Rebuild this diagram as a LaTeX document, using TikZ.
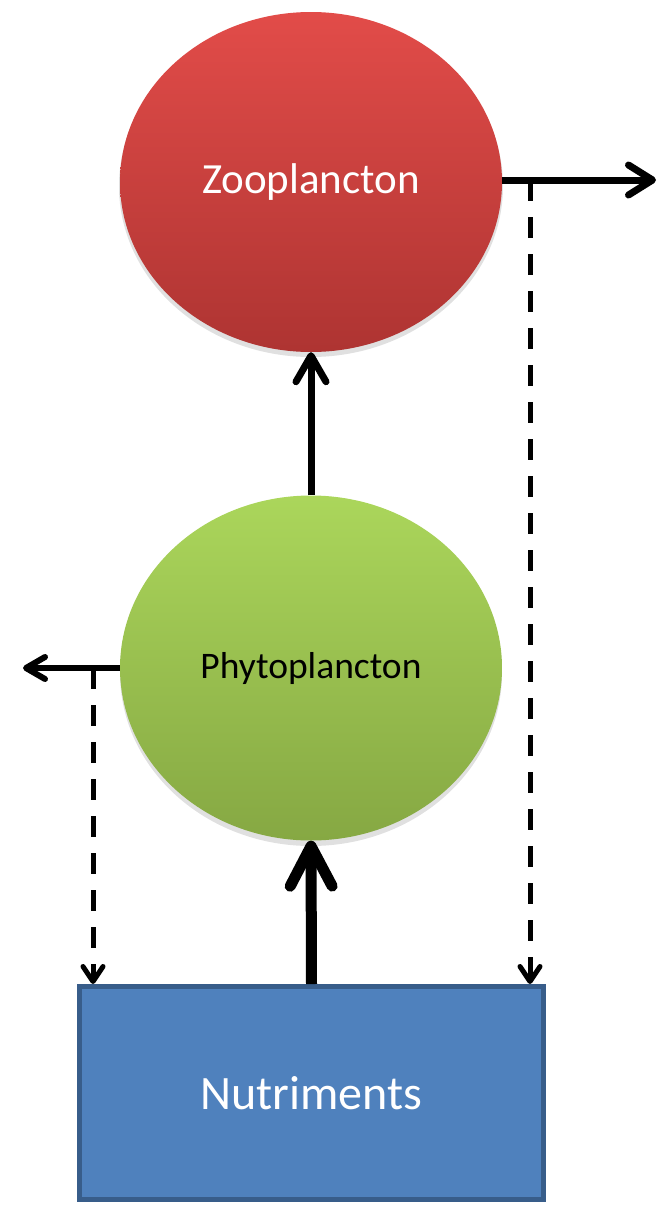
\documentclass[tikz,border=0pt]{standalone}
\usepackage{fontspec}
\setmainfont{Carlito}
\usetikzlibrary{shapes.geometric,arrows.meta}
\definecolor{zootop}{HTML}{E24C49}
\definecolor{zoobot}{HTML}{AE3432}
\definecolor{phytop}{HTML}{ABD65B}
\definecolor{phybot}{HTML}{86A843}
\definecolor{nutfill}{HTML}{4F81BD}
\definecolor{nutdraw}{HTML}{385D8A}
\tikzset{
  blob/.style={ellipse, inner sep=0pt, minimum width=382pt, minimum height=340pt},
  flow/.style={line width=7pt, -{Straight Barb[length=26pt, width=30pt, round]}},
  bigflow/.style={line width=11pt, -{Straight Barb[length=40pt, width=42pt, round]}},
  loss/.style={line width=7pt, -{Straight Barb[length=24pt, width=30pt, round]}},
  lossl/.style={line width=6pt, -{Straight Barb[length=19pt, width=22pt, round]}},
  recyc/.style={line width=5pt, dash pattern=on 21pt off 16pt, -{Straight Barb[length=15pt, width=20pt, round]}}
}
\begin{document}
\begin{tikzpicture}[x=1pt,y=-1pt]
\useasboundingbox (0,0) rectangle (663,1208);
% shadows
\fill[black, opacity=0.12] (311,186) ellipse [x radius=192pt, y radius=171pt];
\fill[black, opacity=0.12] (311,673) ellipse [x radius=191pt, y radius=173pt];
\node[blob, top color=zootop, bottom color=zoobot, minimum height=340pt] (zoo) at (311,182)
  {\fontsize{43}{52}\selectfont\color{white}Zooplancton};
\node[blob, top color=phytop, bottom color=phybot, minimum height=345pt] (phy) at (311,668)
  {\fontsize{37.5}{45}\selectfont Phytoplancton};
\node[draw=nutdraw, line width=5pt, fill=nutfill, minimum width=464pt, minimum height=213pt, inner sep=0pt] (nut) at (311.5,1093)
  {\fontsize{48}{58}\selectfont\color{white}Nutriments};
\coordinate (zr) at (656,180);
\coordinate (zd) at (530,180);
\coordinate (pl) at (23,668);
\coordinate (pd) at (93,668);
\draw[flow] (phy.north) -- (zoo.south);
\draw[bigflow] (nut.north) -- (phy.south);
\draw[loss] (zoo.east |- zr) -- (zr);
\draw[lossl] (phy.west |- pl) -- (pl);
\draw[recyc] (zd) -- (zd |- nut.north);
\draw[recyc] (pd) -- (pd |- nut.north);
\end{tikzpicture}
\end{document}
